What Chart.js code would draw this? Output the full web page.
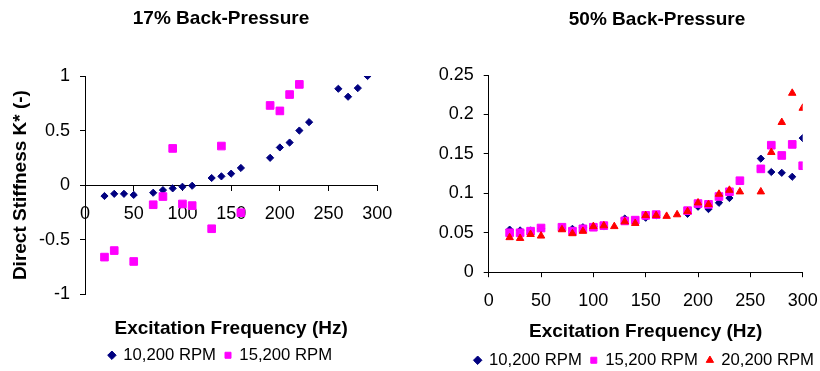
<!DOCTYPE html>
<html>
<head>
<meta charset="utf-8">
<script src="https://cdn.jsdelivr.net/npm/chart.js@4.4.1/dist/chart.umd.min.js"></script>
<style>
  body { margin: 0; background: #fff; overflow: hidden; }
  .panel { position: absolute; top: 0; height: 371px; }
</style>
</head>
<body>
<div class="panel" style="left:0;width:441px"><canvas id="chart17" width="441" height="371"></canvas></div>
<div class="panel" style="left:410px;width:413px"><canvas id="chart50" width="413" height="371"></canvas></div>
<script>
// 17% back-pressure
var freq17a = [20, 30, 40, 50, 70, 80, 90, 100, 110, 130, 140, 150, 160, 190, 200, 210, 220, 230, 260, 270, 280, 290];
var k17a = [-0.10, -0.08, -0.08, -0.09, -0.07, -0.046, -0.03, -0.015, -0.006, 0.065, 0.08, 0.105, 0.157, 0.25, 0.345, 0.39, 0.50, 0.577, 0.883, 0.81, 0.889, 1.0];
var freq17b = [20, 30, 50, 70, 80, 90, 100, 110, 130, 140, 160, 190, 200, 210, 220];
var k17b = [-0.66, -0.60, -0.70, -0.18, -0.105, 0.336, -0.173, -0.188, -0.40, 0.358, -0.253, 0.73, 0.68, 0.83, 0.923];

// 50% back-pressure
var freq50a = [20, 30, 40, 50, 70, 80, 90, 100, 110, 130, 140, 150, 160, 190, 200, 210, 220, 230, 260, 270, 280, 290, 300];
var k50a = [0.054, 0.053, 0.053, 0.055, 0.056, 0.055, 0.057, 0.058, 0.058, 0.068, 0.065, 0.069, 0.072, 0.074, 0.083, 0.080, 0.088, 0.094, 0.144, 0.127, 0.126, 0.121, 0.170];
var freq50b = [20, 30, 40, 50, 70, 80, 90, 100, 110, 130, 140, 150, 160, 190, 200, 210, 220, 230, 240, 260, 270, 280, 290, 300];
var k50b = [0.050, 0.050, 0.052, 0.056, 0.057, 0.052, 0.055, 0.057, 0.059, 0.065, 0.066, 0.072, 0.073, 0.078, 0.087, 0.086, 0.096, 0.102, 0.116, 0.131, 0.161, 0.148, 0.162, 0.135];
var freq50c = [20, 30, 40, 50, 70, 80, 90, 100, 110, 120, 130, 140, 150, 160, 170, 180, 190, 200, 210, 220, 230, 240, 260, 270, 280, 290, 300];
var k50c = [0.044, 0.043, 0.048, 0.046, 0.054, 0.049, 0.052, 0.058, 0.059, 0.058, 0.064, 0.062, 0.072, 0.072, 0.071, 0.073, 0.077, 0.088, 0.086, 0.099, 0.104, 0.102, 0.102, 0.152, 0.190, 0.227, 0.208];

var seriesNames = ['10,200 RPM', '15,200 RPM', '20,200 RPM'];
var FONT = '"Liberation Sans", Arial, sans-serif';

function pts(xs, ys) {
    return xs.map(function (x, i) { return { x: x, y: ys[i] }; });
}

// title text drawn above each panel
var panelTitle = {
    id: 'panelTitle',
    afterDraw: function (chart, args, opts) {
        var ctx = chart.ctx;
        ctx.save();
        ctx.font = 'bold 19px ' + FONT;
        ctx.fillStyle = '#000';
        ctx.textAlign = 'center';
        ctx.textBaseline = 'middle';
        ctx.fillText(opts.text, opts.x, opts.y);
        ctx.restore();
    }
};

function blue(data) {
    return { label: seriesNames[0], data: data, pointStyle: 'rectRot', pointRadius: 3.6,
        backgroundColor: '#000080', borderColor: '#000080', borderWidth: 1, order: 3 };
}
function pink(data) {
    return { label: seriesNames[1], data: data, pointStyle: 'rect', pointRadius: 5.4,
        backgroundColor: '#FF00FF', borderColor: '#FF00FF', borderWidth: 1, order: 2 };
}
function red(data) {
    return { label: seriesNames[2], data: data, pointStyle: 'triangle', pointRadius: 4.3,
        backgroundColor: '#FF0000', borderColor: '#FF0000', borderWidth: 1, order: 1 };
}

function legendOpts(align) {
    return {
        position: 'bottom',
        fullSize: true,
        align: align,
        labels: {
            usePointStyle: true, boxWidth: 6, boxHeight: 6, padding: 9,
            color: '#000', font: { family: FONT, size: 16.7 },
            sort: function (a, b) { return a.datasetIndex - b.datasetIndex; }
        }
    };
}

// empty right-hand axis that only reserves the margin
function spacer(w) {
    return {
        axis: 'y', type: 'linear', position: 'right', min: 0, max: 1,
        ticks: { display: false },
        grid: { display: false },
        border: { display: false },
        afterFit: function (s) { s.width = w; }
    };
}

function fmt(v) { return String(+v.toFixed(2)); }

var tickFont = { family: FONT, size: 18 };
var titleFont = { family: FONT, size: 19, weight: 'bold' };

new Chart(document.getElementById('chart17'), {
    type: 'scatter',
    data: { datasets: [blue(pts(freq17a, k17a)), pink(pts(freq17b, k17b))] },
    plugins: [panelTitle],
    options: {
        responsive: false,
        animation: false,
        layout: { autoPadding: false, padding: { top: 76, right: 0, bottom: -2.6, left: 0 } },
        plugins: {
            legend: legendOpts('center'),
            tooltip: { enabled: false },
            panelTitle: { text: '17% Back-Pressure', x: 221, y: 19 }
        },
        scales: {
            x: {
                type: 'linear', position: { y: 0 }, min: 0, max: 300, z: 1,
                ticks: { stepSize: 50, padding: 13, color: '#000', font: tickFont, maxRotation: 0, callback: fmt },
                grid: { drawOnChartArea: false, tickLength: 5, color: '#000' },
                border: { color: '#000' }
            },
            xt: {
                axis: 'x', type: 'linear', position: 'bottom', min: 0, max: 300,
                ticks: { display: false },
                grid: { display: false },
                border: { display: false },
                title: { display: true, text: 'Excitation Frequency (Hz)', color: '#000', font: titleFont, padding: { top: 0, bottom: -2.4 } },
                afterFit: function (s) { s.height = 43.7; s.paddingLeft = 0; s.paddingRight = 0; }
            },
            y: {
                min: -1, max: 1,
                ticks: { stepSize: 0.5, padding: 10, color: '#000', font: tickFont, callback: fmt },
                grid: { drawOnChartArea: false, tickLength: 5, color: '#000' },
                border: { color: '#000' },
                title: { display: true, text: 'Direct Stiffness K* (-)', color: '#000', font: titleFont, padding: { top: 9, bottom: 0 } },
                afterFit: function (s) { s.width = 85; }
            },
            yr: spacer(63.7)
        }
    }
});

new Chart(document.getElementById('chart50'), {
    type: 'scatter',
    data: { datasets: [blue(pts(freq50a, k50a)), pink(pts(freq50b, k50b)), red(pts(freq50c, k50c))] },
    plugins: [panelTitle],
    options: {
        responsive: false,
        animation: false,
        layout: { autoPadding: false, padding: { top: 75, right: 0, bottom: -7.6, left: 0 } },
        plugins: {
            legend: legendOpts('end'),
            tooltip: { enabled: false },
            panelTitle: { text: '50% Back-Pressure', x: 247, y: 20 }
        },
        scales: {
            x: {
                type: 'linear', position: 'bottom', min: 0, max: 300,
                ticks: { stepSize: 50, padding: 13, color: '#000', font: tickFont, maxRotation: 0, callback: fmt },
                grid: { drawOnChartArea: false, tickLength: 5, color: '#000' },
                border: { color: '#000' },
                title: { display: true, text: 'Excitation Frequency (Hz)', color: '#000', font: titleFont, padding: 0 },
                afterFit: function (s) {
                    s.height = 70.7;
                    // the "300" label may hang into the right margin
                    s.paddingLeft = 0;
                    s.paddingRight = 0;
                }
            },
            y: {
                min: 0, max: 0.25,
                ticks: { stepSize: 0.05, padding: 10, color: '#000', font: tickFont, callback: fmt },
                grid: { drawOnChartArea: false, tickLength: 5, color: '#000' },
                border: { color: '#000' },
                afterFit: function (s) { s.width = 78.7; }
            },
            yr: spacer(20.3)
        }
    }
});
</script>
</body>
</html>
